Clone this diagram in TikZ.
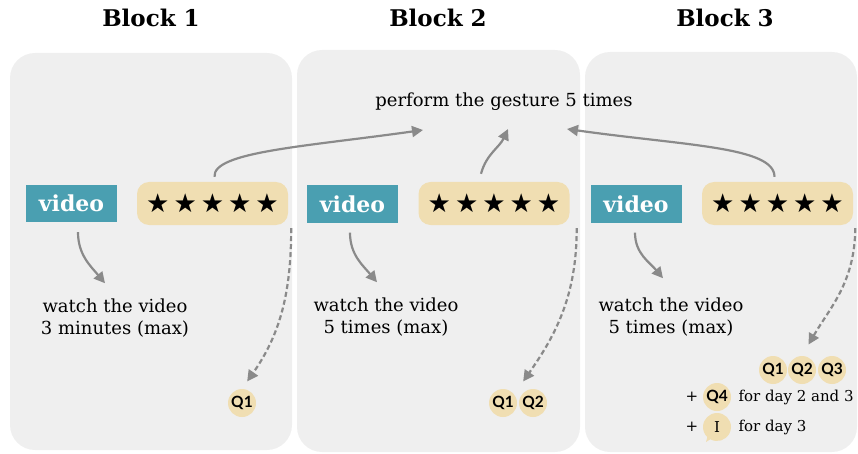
\documentclass[tikz,border=0pt]{standalone}
\usepackage{fontspec}
\setmainfont{DejaVu Serif}
\newfontfamily\starfont{DejaVu Sans}
\newfontfamily\qfont{Lato}
\usetikzlibrary{arrows.meta,shapes.callouts,calc}
\definecolor{panelgray}{HTML}{EFEFEF}
\definecolor{videoteal}{HTML}{4A9FB1}
\definecolor{startan}{HTML}{F0DEB2}
\definecolor{arrowgray}{HTML}{8A8A8A}
\tikzset{
  panel/.style={fill=panelgray, rounded corners=25pt},
  title/.style={font=\bfseries\fontsize{23}{27}\selectfont},
  videobox/.style={fill=videoteal, text=white, minimum width=91pt, minimum height=37pt,
    inner sep=0pt, font=\bfseries\fontsize{22}{24}\selectfont},
  starbox/.style={fill=startan, rounded corners=12pt, minimum width=151pt, minimum height=43pt,
    inner sep=0pt, font=\starfont\fontsize{26}{28}\selectfont},
  note/.style={align=center, font=\fontsize{18}{22}\selectfont},
  small/.style={font=\fontsize{15}{17}\selectfont},
  qdot/.style={circle, fill=startan, minimum size=28pt, inner sep=0pt,
    font=\qfont\bfseries\fontsize{15.5}{17}\selectfont},
  flow/.style={draw=arrowgray, line width=2.2pt, -{Triangle[length=11pt,width=11pt]}},
  dashflow/.style={flow, dash pattern=on 5pt off 3pt},
}
\newcommand{\fivestars}{★\hspace{4pt}★\hspace{4pt}★\hspace{4pt}★\hspace{4pt}★}
\begin{document}
\begin{tikzpicture}[x=1pt,y=1pt]
  \useasboundingbox (0,0) rectangle (858,-454);
  % panels
  \fill[panel] (10,-53) rectangle (292,-450);
  \fill[panel] (297,-50) rectangle (580,-452);
  \fill[panel] (585,-52) rectangle (857,-452);
  % titles
  \node[title] (t1) at (151,-18) {Block 1};
  \node[title] (t2) at (438,-18) {Block 2};
  \node[title] (t3) at (725,-18) {Block 3};
  % video and rating boxes
  \node[videobox] (v1) at (71.5,-203.5) {video};
  \node[videobox] (v2) at (352.5,-204) {video};
  \node[videobox] (v3) at (636,-204) {video};
  \node[starbox] (s1) at (212.5,-203.5) {\fivestars};
  \node[starbox] (s2) at (494,-203.5) {\fivestars};
  \node[starbox] (s3) at (777.5,-203.5) {\fivestars};
  % texts
  \node[note] (perf) at (504,-102) {perform the gesture 5 times};
  \node[note] (w1) at (115,-318) {watch the video\\3 minutes (max)};
  \node[note] (w2) at (386,-317) {watch the video\\5 times (max)};
  \node[note] (w3) at (671,-317) {watch the video\\5 times (max)};
  % questions
  \node[qdot] (q11) at (242,-403) {Q1};
  \node[qdot] (q21) at (503,-403) {Q1};
  \node[qdot] (q22) at (533,-403) {Q2};
  \node[qdot] (q31) at (773,-370) {Q1};
  \node[qdot] (q32) at (802,-370) {Q2};
  \node[qdot] (q33) at (832,-370) {Q3};
  \node[qdot] (q34) at (717,-397) {Q4};
  \node[ellipse callout, fill=startan, minimum width=28pt, minimum height=28pt, inner sep=0pt,
    callout absolute pointer={(706,-442)}, font=\fontsize{15}{17}\selectfont] (qi) at (717,-427) {I};
  \node[small] (p4) at (692,-397) {+};
  \node[small] (p5) at (692,-427) {+};
  \node[small, anchor=west] (d4) at (735,-397) {for day 2 and 3};
  \node[small, anchor=west] (d5) at (735,-427) {for day 3};
  % gesture arrows
  \coordinate (g1) at (423,-130);
  \coordinate (g2) at (508,-129);
  \coordinate (g3) at (567,-129);
  \draw[flow] ([xshift=2pt,yshift=5pt]s1.north) .. controls +(95:25) and +(188:120) .. (g1);
  \draw[flow] ([xshift=-13pt,yshift=8pt]s2.north) to[out=75,in=-115] (g2);
  \draw[flow] ([xshift=-3pt,yshift=5pt]s3.north) .. controls +(90:30) and +(-8:120) .. (g3);
  % watch arrows
  \draw[flow] ([xshift=6.5pt,yshift=-10pt]v1.south) to[out=-90,in=130] ([xshift=-10pt,yshift=12pt]w1.north);
  \draw[flow] ([xshift=-2.5pt,yshift=-10pt]v2.south) to[out=-90,in=130] ([xshift=-9pt,yshift=12pt]w2.north);
  \draw[flow] ([xshift=-1pt,yshift=-10pt]v3.south) to[out=-90,in=130] ([xshift=-8pt,yshift=16pt]w3.north);
  % question arrows
  \draw[dashflow, shorten >=9pt] ([xshift=3pt,yshift=-3pt]s1.south east) to[out=-90,in=55] (q11.north);
  \draw[dashflow, shorten >=9pt] ([xshift=7pt,yshift=-3pt]s2.south east) to[out=-90,in=55] ($(q21.north)!0.5!(q22.north)$);
  \draw[dashflow, shorten >=13pt] ([xshift=2pt,yshift=-3pt]s3.south east) to[out=-90,in=60] (q32.north);
\end{tikzpicture}
\end{document}
